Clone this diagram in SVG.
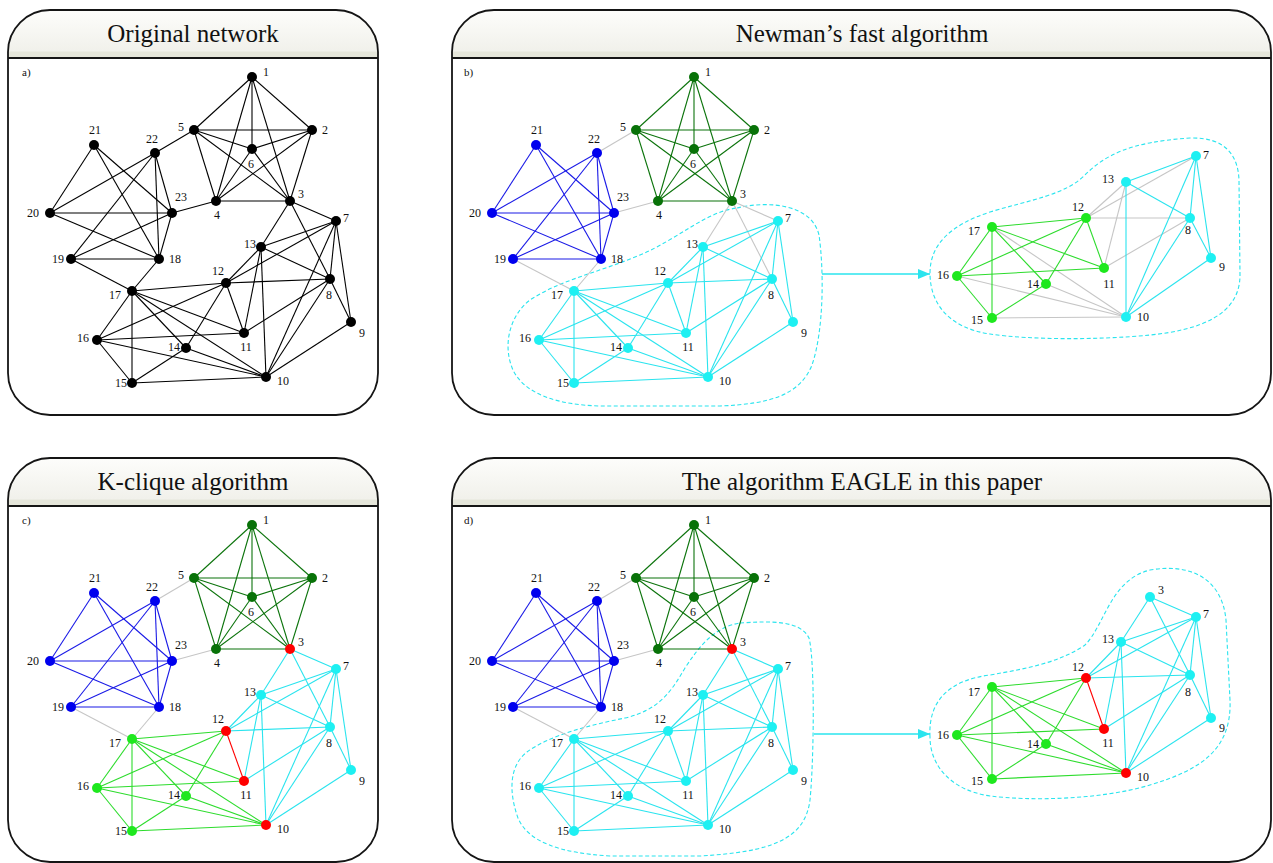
<svg xmlns="http://www.w3.org/2000/svg" width="1273" height="863" viewBox="0 0 1273 863">
<style>
.fr{fill:none;stroke:#151515;stroke-width:1.8}
.hd{fill:url(#hg)}
.sep{stroke:#151515;stroke-width:2}
.ti{font-family:"Liberation Serif","Times New Roman",serif;font-size:25px;fill:#111;text-anchor:middle}
.pl{font-family:"Liberation Serif","Times New Roman",serif;font-size:11px;fill:#111}
.t{font-family:"Liberation Serif","Times New Roman",serif;font-size:12px;fill:#111;text-anchor:middle}
.e{fill:none;stroke-width:1.1}
.k{stroke:#000}
.g{stroke:#0b730b}
.b{stroke:#1a1ae6}
.c{stroke:#2ae4ee}
.l{stroke:#2ddc2d}
.r{stroke:#f00}
.x{stroke:#c6c6c6}
.nk{fill:#000}.ng{fill:#087208}.nb{fill:#0000ee}.nc{fill:#1ef0f2}.nl{fill:#1ee81e}.nr{fill:#f00}
.ol{fill:none;stroke:#2ae4ee;stroke-width:1.1;stroke-dasharray:4 2.5}
.ar{fill:none;stroke:#2ae4ee;stroke-width:1.3}
</style>
<defs>
<linearGradient id="hg" x1="0" y1="0" x2="0" y2="1">
<stop offset="0" stop-color="#fdfdfb"/><stop offset="0.85" stop-color="#f1f1eb"/><stop offset="0.88" stop-color="#e5e6da"/><stop offset="1" stop-color="#e5e6da"/>
</linearGradient>
<marker id="ah" markerWidth="12" markerHeight="10" refX="12" refY="5" orient="auto" markerUnits="userSpaceOnUse"><path d="M0,0 L12,5 L0,10 Z" fill="#2ae4ee"/></marker>
<g id="eK6" fill="none" stroke-width="1.1">
<path d="M252 77L312 130"/><path d="M252 77L290 201"/><path d="M252 77L216 201"/><path d="M252 77L194 130"/><path d="M252 77L252 149"/>
<path d="M312 130L290 201"/><path d="M312 130L216 201"/><path d="M312 130L194 130"/><path d="M312 130L252 149"/>
<path d="M290 201L216 201"/><path d="M290 201L194 130"/><path d="M290 201L252 149"/>
<path d="M216 201L194 130"/><path d="M216 201L252 149"/><path d="M194 130L252 149"/>
</g>
<g id="eBL" fill="none" stroke-width="1.1">
<path d="M94 145L50 213"/><path d="M94 145L172 213"/><path d="M94 145L159 259"/>
<path d="M155 153L50 213"/><path d="M155 153L71 259"/><path d="M155 153L172 213"/><path d="M155 153L159 259"/>
<path d="M50 213L172 213"/><path d="M50 213L159 259"/><path d="M71 259L172 213"/><path d="M71 259L159 259"/><path d="M172 213L159 259"/>
</g>
<g id="eBR" fill="none" stroke-width="1.1">
<path d="M155 153L194 130"/><path d="M172 213L216 201"/><path d="M71 259L132 291"/><path d="M159 259L132 291"/>
</g>
<g id="eT3" fill="none" stroke-width="1.1">
<path d="M290 201L261 247"/><path d="M290 201L336 221"/><path d="M290 201L330 279"/>
</g>
<g id="eCC" fill="none" stroke-width="1.1">
<path d="M336 221L261 247"/><path d="M336 221L226 283"/><path d="M336 221L330 279"/><path d="M336 221L351 322"/><path d="M336 221L266 377"/>
<path d="M261 247L226 283"/><path d="M261 247L330 279"/><path d="M261 247L244 333"/><path d="M261 247L266 377"/>
<path d="M226 283L330 279"/><path d="M330 279L351 322"/><path d="M330 279L266 377"/><path d="M330 279L244 333"/><path d="M351 322L266 377"/>
</g>
<g id="eLL" fill="none" stroke-width="1.1">
<path d="M226 283L132 291"/><path d="M226 283L186 348"/><path d="M226 283L97 340"/>
<path d="M132 291L97 340"/><path d="M132 291L132 383"/><path d="M132 291L186 348"/><path d="M132 291L244 333"/><path d="M132 291L266 377"/>
<path d="M97 340L244 333"/><path d="M97 340L132 383"/><path d="M97 340L266 377"/>
<path d="M186 348L132 383"/><path d="M186 348L266 377"/><path d="M132 383L266 377"/>
</g>
<g id="eR1" fill="none" stroke-width="1.1"><path d="M226 283L244 333"/></g>
</defs>
<rect x="0" y="0" width="1273" height="863" fill="#fff"/>

<g id="frames">
<path class="hd" d="M8,58 V52 A42,42 0 0 1 50,10 H336 A42,42 0 0 1 378,52 V58 Z"/>
<path class="fr" d="M8,52 A42,42 0 0 1 50,10 H336 A42,42 0 0 1 378,52 V373 A42,42 0 0 1 336,415 H50 A42,42 0 0 1 8,373 Z"/>
<path class="sep" d="M8,58 H378"/>
<path class="hd" d="M452,58 V52 A42,42 0 0 1 494,10 H1229 A42,42 0 0 1 1271,52 V58 Z"/>
<path class="fr" d="M452,52 A42,42 0 0 1 494,10 H1229 A42,42 0 0 1 1271,52 V373 A42,42 0 0 1 1229,415 H494 A42,42 0 0 1 452,373 Z"/>
<path class="sep" d="M452,58 H1271"/>
<path class="hd" d="M8,506 V500 A42,42 0 0 1 50,458 H336 A42,42 0 0 1 378,500 V506 Z"/>
<path class="fr" d="M8,500 A42,42 0 0 1 50,458 H336 A42,42 0 0 1 378,500 V820 A42,42 0 0 1 336,862 H50 A42,42 0 0 1 8,820 Z"/>
<path class="sep" d="M8,506 H378"/>
<path class="hd" d="M452,506 V500 A42,42 0 0 1 494,458 H1229 A42,42 0 0 1 1271,500 V506 Z"/>
<path class="fr" d="M452,500 A42,42 0 0 1 494,458 H1229 A42,42 0 0 1 1271,500 V820 A42,42 0 0 1 1229,862 H494 A42,42 0 0 1 452,820 Z"/>
<path class="sep" d="M452,506 H1271"/>
<text class="ti" x="193" y="42">Original network</text>
<text class="ti" x="862" y="42">Newman’s fast algorithm</text>
<text class="ti" x="193" y="490">K-clique algorithm</text>
<text class="ti" x="862" y="490">The algorithm EAGLE in this paper</text>
<text class="pl" x="22" y="76">a)</text>
<text class="pl" x="464" y="76">b)</text>
<text class="pl" x="22" y="524">c)</text>
<text class="pl" x="464" y="524">d)</text>
</g>

<g id="outlines">
<path class="ol" d="M737,208 C770,200 812,205 819,235 C824,270 824,330 812,365 C800,395 770,404 720,406 L600,406 C560,405 525,395 513,370 C502,345 510,315 530,300 C560,280 600,272 640,255 C680,238 705,212 737,208 Z"/>
<path class="ol" d="M930,273 C930,245 950,225 990,212 C1030,200 1065,195 1085,175 C1105,155 1130,142 1190,138 C1225,137 1238,155 1239,180 L1240,275 C1240,315 1200,330 1150,335 C1100,340 1030,340 990,334 C950,328 930,305 930,273 Z"/>
<path class="ol" d="M740,623 C770,621 800,620 809,638 C815,660 814,760 810,800 C805,840 770,852 700,856 L610,856 C560,853 528,842 518,818 C508,790 510,765 527,752 C550,735 590,725 625,718 C660,710 672,690 685,668 C700,645 715,627 740,623 Z"/>
<path class="ol" d="M930,737 C928,700 950,680 990,675 C1030,668 1060,662 1085,645 C1105,625 1110,580 1150,570 C1190,563 1222,578 1226,620 L1230,700 C1232,750 1200,770 1150,785 C1100,800 1030,801 990,796 C950,790 930,765 930,737 Z"/>
</g>

<g id="connectors">
<g id="edges-a">
<use href="#eK6" class="k"/><use href="#eBL" class="k"/><use href="#eBR" class="k"/><use href="#eT3" class="k"/><use href="#eCC" class="k"/><use href="#eLL" class="k"/><use href="#eR1" class="k"/>
</g>
<g id="edges-b" transform="translate(442,0)">
<use href="#eBR" class="x"/><use href="#eT3" class="x"/><use href="#eK6" class="g"/><use href="#eBL" class="b"/><use href="#eCC" class="c"/><use href="#eLL" class="c"/><use href="#eR1" class="c"/>
</g>
<g id="edges-c" transform="translate(0,448)">
<use href="#eBR" class="x"/><use href="#eK6" class="g"/><use href="#eBL" class="b"/><use href="#eT3" class="c"/><use href="#eCC" class="c"/><use href="#eLL" class="l"/><use href="#eR1" class="r"/>
</g>
<g id="edges-d" transform="translate(442,448)">
<use href="#eBR" class="x"/><use href="#eK6" class="g"/><use href="#eBL" class="b"/><use href="#eT3" class="c"/><use href="#eCC" class="c"/><use href="#eLL" class="c"/><use href="#eR1" class="c"/>
</g>
<g id="edges-br" class="e">
<path class="x" d="M1196 156L1086 218"/><path class="x" d="M1126 182L1086 218"/><path class="x" d="M1126 182L1104 268"/><path class="x" d="M1086 218L1190 218"/><path class="x" d="M1190 218L1104 268"/><path class="x" d="M992 227L1126 317"/><path class="x" d="M957 276L1126 317"/><path class="x" d="M1046 284L1126 317"/><path class="x" d="M992 318L1126 317"/>
<path class="l" d="M1086 218L992 227"/><path class="l" d="M1086 218L1104 268"/><path class="l" d="M1086 218L1046 284"/><path class="l" d="M1086 218L957 276"/><path class="l" d="M992 227L957 276"/><path class="l" d="M992 227L992 318"/><path class="l" d="M992 227L1046 284"/><path class="l" d="M992 227L1104 268"/><path class="l" d="M957 276L1104 268"/><path class="l" d="M957 276L992 318"/><path class="l" d="M1046 284L992 318"/>
<path class="c" d="M1196 156L1126 182"/><path class="c" d="M1196 156L1190 218"/><path class="c" d="M1196 156L1211 258"/><path class="c" d="M1196 156L1126 317"/><path class="c" d="M1126 182L1190 218"/><path class="c" d="M1126 182L1126 317"/><path class="c" d="M1190 218L1211 258"/><path class="c" d="M1190 218L1126 317"/><path class="c" d="M1211 258L1126 317"/>
</g>
<g id="edges-dr" class="e">
<path class="l" d="M1086 678L992 687"/><path class="l" d="M1086 678L1046 744"/><path class="l" d="M1086 678L957 735"/><path class="l" d="M992 687L957 735"/><path class="l" d="M992 687L992 779"/><path class="l" d="M992 687L1046 744"/><path class="l" d="M992 687L1104 729"/><path class="l" d="M992 687L1126 773"/><path class="l" d="M957 735L1104 729"/><path class="l" d="M957 735L992 779"/><path class="l" d="M957 735L1126 773"/><path class="l" d="M1046 744L992 779"/><path class="l" d="M1046 744L1126 773"/><path class="l" d="M992 779L1126 773"/>
<path class="c" d="M1196 617L1121 642"/><path class="c" d="M1196 617L1086 678"/><path class="c" d="M1196 617L1190 675"/><path class="c" d="M1196 617L1211 718"/><path class="c" d="M1196 617L1126 773"/><path class="c" d="M1121 642L1086 678"/><path class="c" d="M1121 642L1190 675"/><path class="c" d="M1121 642L1104 729"/><path class="c" d="M1121 642L1126 773"/><path class="c" d="M1086 678L1190 675"/><path class="c" d="M1190 675L1211 718"/><path class="c" d="M1190 675L1126 773"/><path class="c" d="M1190 675L1104 729"/><path class="c" d="M1211 718L1126 773"/><path class="c" d="M1150 597L1121 642"/><path class="c" d="M1150 597L1196 617"/><path class="c" d="M1150 597L1190 675"/>
<path class="r" d="M1086 678L1104 729"/>
</g>
<path id="arrow-b" class="ar" d="M822,274 H930" marker-end="url(#ah)"/>
<path id="arrow-d" class="ar" d="M814,734 H930" marker-end="url(#ah)"/>
</g>

<g id="nodes-a">
<g id="a1"><circle class="nk" cx="252" cy="77" r="5"/><text class="t" x="266" y="76">1</text></g>
<g id="a2"><circle class="nk" cx="312" cy="130" r="5"/><text class="t" x="325" y="134">2</text></g>
<g id="a3"><circle class="nk" cx="290" cy="201" r="5"/><text class="t" x="301" y="198">3</text></g>
<g id="a4"><circle class="nk" cx="216" cy="201" r="5"/><text class="t" x="217" y="219">4</text></g>
<g id="a5"><circle class="nk" cx="194" cy="130" r="5"/><text class="t" x="181" y="131">5</text></g>
<g id="a6"><circle class="nk" cx="252" cy="149" r="5"/><text class="t" x="251" y="168">6</text></g>
<g id="a7"><circle class="nk" cx="336" cy="221" r="5"/><text class="t" x="346" y="222">7</text></g>
<g id="a8"><circle class="nk" cx="330" cy="279" r="5"/><text class="t" x="329" y="299">8</text></g>
<g id="a9"><circle class="nk" cx="351" cy="322" r="5"/><text class="t" x="362" y="337">9</text></g>
<g id="a10"><circle class="nk" cx="266" cy="377" r="5"/><text class="t" x="283" y="385">10</text></g>
<g id="a11"><circle class="nk" cx="244" cy="333" r="5"/><text class="t" x="246" y="351">11</text></g>
<g id="a12"><circle class="nk" cx="226" cy="283" r="5"/><text class="t" x="218" y="275">12</text></g>
<g id="a13"><circle class="nk" cx="261" cy="247" r="5"/><text class="t" x="250" y="248">13</text></g>
<g id="a14"><circle class="nk" cx="186" cy="348" r="5"/><text class="t" x="174" y="351">14</text></g>
<g id="a15"><circle class="nk" cx="132" cy="383" r="5"/><text class="t" x="121" y="387">15</text></g>
<g id="a16"><circle class="nk" cx="97" cy="340" r="5"/><text class="t" x="83" y="342">16</text></g>
<g id="a17"><circle class="nk" cx="132" cy="291" r="5"/><text class="t" x="115" y="299">17</text></g>
<g id="a18"><circle class="nk" cx="159" cy="259" r="5"/><text class="t" x="175" y="263">18</text></g>
<g id="a19"><circle class="nk" cx="71" cy="259" r="5"/><text class="t" x="58" y="263">19</text></g>
<g id="a20"><circle class="nk" cx="50" cy="213" r="5"/><text class="t" x="33" y="217">20</text></g>
<g id="a21"><circle class="nk" cx="94" cy="145" r="5"/><text class="t" x="95" y="134">21</text></g>
<g id="a22"><circle class="nk" cx="155" cy="153" r="5"/><text class="t" x="152" y="143">22</text></g>
<g id="a23"><circle class="nk" cx="172" cy="213" r="5"/><text class="t" x="181" y="201">23</text></g>
</g>

<g id="nodes-b" transform="translate(442,0)">
<g id="b1"><circle class="ng" cx="252" cy="77" r="5"/><text class="t" x="266" y="76">1</text></g>
<g id="b2"><circle class="ng" cx="312" cy="130" r="5"/><text class="t" x="325" y="134">2</text></g>
<g id="b3"><circle class="ng" cx="290" cy="201" r="5"/><text class="t" x="301" y="198">3</text></g>
<g id="b4"><circle class="ng" cx="216" cy="201" r="5"/><text class="t" x="217" y="219">4</text></g>
<g id="b5"><circle class="ng" cx="194" cy="130" r="5"/><text class="t" x="181" y="131">5</text></g>
<g id="b6"><circle class="ng" cx="252" cy="149" r="5"/><text class="t" x="251" y="168">6</text></g>
<g id="b7"><circle class="nc" cx="336" cy="221" r="5"/><text class="t" x="346" y="222">7</text></g>
<g id="b8"><circle class="nc" cx="330" cy="279" r="5"/><text class="t" x="329" y="299">8</text></g>
<g id="b9"><circle class="nc" cx="351" cy="322" r="5"/><text class="t" x="362" y="337">9</text></g>
<g id="b10"><circle class="nc" cx="266" cy="377" r="5"/><text class="t" x="283" y="385">10</text></g>
<g id="b11"><circle class="nc" cx="244" cy="333" r="5"/><text class="t" x="246" y="351">11</text></g>
<g id="b12"><circle class="nc" cx="226" cy="283" r="5"/><text class="t" x="218" y="275">12</text></g>
<g id="b13"><circle class="nc" cx="261" cy="247" r="5"/><text class="t" x="250" y="248">13</text></g>
<g id="b14"><circle class="nc" cx="186" cy="348" r="5"/><text class="t" x="174" y="351">14</text></g>
<g id="b15"><circle class="nc" cx="132" cy="383" r="5"/><text class="t" x="121" y="387">15</text></g>
<g id="b16"><circle class="nc" cx="97" cy="340" r="5"/><text class="t" x="83" y="342">16</text></g>
<g id="b17"><circle class="nc" cx="132" cy="291" r="5"/><text class="t" x="115" y="299">17</text></g>
<g id="b18"><circle class="nb" cx="159" cy="259" r="5"/><text class="t" x="175" y="263">18</text></g>
<g id="b19"><circle class="nb" cx="71" cy="259" r="5"/><text class="t" x="58" y="263">19</text></g>
<g id="b20"><circle class="nb" cx="50" cy="213" r="5"/><text class="t" x="33" y="217">20</text></g>
<g id="b21"><circle class="nb" cx="94" cy="145" r="5"/><text class="t" x="95" y="134">21</text></g>
<g id="b22"><circle class="nb" cx="155" cy="153" r="5"/><text class="t" x="152" y="143">22</text></g>
<g id="b23"><circle class="nb" cx="172" cy="213" r="5"/><text class="t" x="181" y="201">23</text></g>
</g>

<g id="nodes-c" transform="translate(0,448)">
<g id="c1"><circle class="ng" cx="252" cy="77" r="5"/><text class="t" x="266" y="76">1</text></g>
<g id="c2"><circle class="ng" cx="312" cy="130" r="5"/><text class="t" x="325" y="134">2</text></g>
<g id="c3"><circle class="nr" cx="290" cy="201" r="5"/><text class="t" x="301" y="198">3</text></g>
<g id="c4"><circle class="ng" cx="216" cy="201" r="5"/><text class="t" x="217" y="219">4</text></g>
<g id="c5"><circle class="ng" cx="194" cy="130" r="5"/><text class="t" x="181" y="131">5</text></g>
<g id="c6"><circle class="ng" cx="252" cy="149" r="5"/><text class="t" x="251" y="168">6</text></g>
<g id="c7"><circle class="nc" cx="336" cy="221" r="5"/><text class="t" x="346" y="222">7</text></g>
<g id="c8"><circle class="nc" cx="330" cy="279" r="5"/><text class="t" x="329" y="299">8</text></g>
<g id="c9"><circle class="nc" cx="351" cy="322" r="5"/><text class="t" x="362" y="337">9</text></g>
<g id="c10"><circle class="nr" cx="266" cy="377" r="5"/><text class="t" x="283" y="385">10</text></g>
<g id="c11"><circle class="nr" cx="244" cy="333" r="5"/><text class="t" x="246" y="351">11</text></g>
<g id="c12"><circle class="nr" cx="226" cy="283" r="5"/><text class="t" x="218" y="275">12</text></g>
<g id="c13"><circle class="nc" cx="261" cy="247" r="5"/><text class="t" x="250" y="248">13</text></g>
<g id="c14"><circle class="nl" cx="186" cy="348" r="5"/><text class="t" x="174" y="351">14</text></g>
<g id="c15"><circle class="nl" cx="132" cy="383" r="5"/><text class="t" x="121" y="387">15</text></g>
<g id="c16"><circle class="nl" cx="97" cy="340" r="5"/><text class="t" x="83" y="342">16</text></g>
<g id="c17"><circle class="nl" cx="132" cy="291" r="5"/><text class="t" x="115" y="299">17</text></g>
<g id="c18"><circle class="nb" cx="159" cy="259" r="5"/><text class="t" x="175" y="263">18</text></g>
<g id="c19"><circle class="nb" cx="71" cy="259" r="5"/><text class="t" x="58" y="263">19</text></g>
<g id="c20"><circle class="nb" cx="50" cy="213" r="5"/><text class="t" x="33" y="217">20</text></g>
<g id="c21"><circle class="nb" cx="94" cy="145" r="5"/><text class="t" x="95" y="134">21</text></g>
<g id="c22"><circle class="nb" cx="155" cy="153" r="5"/><text class="t" x="152" y="143">22</text></g>
<g id="c23"><circle class="nb" cx="172" cy="213" r="5"/><text class="t" x="181" y="201">23</text></g>
</g>

<g id="nodes-d" transform="translate(442,448)">
<g id="d1"><circle class="ng" cx="252" cy="77" r="5"/><text class="t" x="266" y="76">1</text></g>
<g id="d2"><circle class="ng" cx="312" cy="130" r="5"/><text class="t" x="325" y="134">2</text></g>
<g id="d3"><circle class="nr" cx="290" cy="201" r="5"/><text class="t" x="301" y="198">3</text></g>
<g id="d4"><circle class="ng" cx="216" cy="201" r="5"/><text class="t" x="217" y="219">4</text></g>
<g id="d5"><circle class="ng" cx="194" cy="130" r="5"/><text class="t" x="181" y="131">5</text></g>
<g id="d6"><circle class="ng" cx="252" cy="149" r="5"/><text class="t" x="251" y="168">6</text></g>
<g id="d7"><circle class="nc" cx="336" cy="221" r="5"/><text class="t" x="346" y="222">7</text></g>
<g id="d8"><circle class="nc" cx="330" cy="279" r="5"/><text class="t" x="329" y="299">8</text></g>
<g id="d9"><circle class="nc" cx="351" cy="322" r="5"/><text class="t" x="362" y="337">9</text></g>
<g id="d10"><circle class="nc" cx="266" cy="377" r="5"/><text class="t" x="283" y="385">10</text></g>
<g id="d11"><circle class="nc" cx="244" cy="333" r="5"/><text class="t" x="246" y="351">11</text></g>
<g id="d12"><circle class="nc" cx="226" cy="283" r="5"/><text class="t" x="218" y="275">12</text></g>
<g id="d13"><circle class="nc" cx="261" cy="247" r="5"/><text class="t" x="250" y="248">13</text></g>
<g id="d14"><circle class="nc" cx="186" cy="348" r="5"/><text class="t" x="174" y="351">14</text></g>
<g id="d15"><circle class="nc" cx="132" cy="383" r="5"/><text class="t" x="121" y="387">15</text></g>
<g id="d16"><circle class="nc" cx="97" cy="340" r="5"/><text class="t" x="83" y="342">16</text></g>
<g id="d17"><circle class="nc" cx="132" cy="291" r="5"/><text class="t" x="115" y="299">17</text></g>
<g id="d18"><circle class="nb" cx="159" cy="259" r="5"/><text class="t" x="175" y="263">18</text></g>
<g id="d19"><circle class="nb" cx="71" cy="259" r="5"/><text class="t" x="58" y="263">19</text></g>
<g id="d20"><circle class="nb" cx="50" cy="213" r="5"/><text class="t" x="33" y="217">20</text></g>
<g id="d21"><circle class="nb" cx="94" cy="145" r="5"/><text class="t" x="95" y="134">21</text></g>
<g id="d22"><circle class="nb" cx="155" cy="153" r="5"/><text class="t" x="152" y="143">22</text></g>
<g id="d23"><circle class="nb" cx="172" cy="213" r="5"/><text class="t" x="181" y="201">23</text></g>
</g>

<g id="nodes-br">
<g id="br7"><circle class="nc" cx="1196" cy="156" r="5"/><text class="t" x="1206" y="159">7</text></g>
<g id="br13"><circle class="nc" cx="1126" cy="182" r="5"/><text class="t" x="1108" y="183">13</text></g>
<g id="br12"><circle class="nl" cx="1086" cy="218" r="5"/><text class="t" x="1078" y="211">12</text></g>
<g id="br8"><circle class="nc" cx="1190" cy="218" r="5"/><text class="t" x="1188" y="234">8</text></g>
<g id="br17"><circle class="nl" cx="992" cy="227" r="5"/><text class="t" x="974" y="235">17</text></g>
<g id="br11"><circle class="nl" cx="1104" cy="268" r="5"/><text class="t" x="1109" y="288">11</text></g>
<g id="br9"><circle class="nc" cx="1211" cy="258" r="5"/><text class="t" x="1222" y="271">9</text></g>
<g id="br16"><circle class="nl" cx="957" cy="276" r="5"/><text class="t" x="943" y="279">16</text></g>
<g id="br14"><circle class="nl" cx="1046" cy="284" r="5"/><text class="t" x="1033" y="288">14</text></g>
<g id="br15"><circle class="nl" cx="992" cy="318" r="5"/><text class="t" x="977" y="324">15</text></g>
<g id="br10"><circle class="nc" cx="1126" cy="317" r="5"/><text class="t" x="1143" y="321">10</text></g>
</g>

<g id="nodes-dr">
<g id="dr3"><circle class="nc" cx="1150" cy="597" r="5"/><text class="t" x="1161" y="594">3</text></g>
<g id="dr7"><circle class="nc" cx="1196" cy="617" r="5"/><text class="t" x="1206" y="618">7</text></g>
<g id="dr13"><circle class="nc" cx="1121" cy="642" r="5"/><text class="t" x="1108" y="643">13</text></g>
<g id="dr12"><circle class="nr" cx="1086" cy="678" r="5"/><text class="t" x="1078" y="671">12</text></g>
<g id="dr8"><circle class="nc" cx="1190" cy="675" r="5"/><text class="t" x="1188" y="696">8</text></g>
<g id="dr17"><circle class="nl" cx="992" cy="687" r="5"/><text class="t" x="974" y="696">17</text></g>
<g id="dr11"><circle class="nr" cx="1104" cy="729" r="5"/><text class="t" x="1108" y="747">11</text></g>
<g id="dr9"><circle class="nc" cx="1211" cy="718" r="5"/><text class="t" x="1222" y="732">9</text></g>
<g id="dr16"><circle class="nl" cx="957" cy="735" r="5"/><text class="t" x="943" y="739">16</text></g>
<g id="dr14"><circle class="nl" cx="1046" cy="744" r="5"/><text class="t" x="1033" y="748">14</text></g>
<g id="dr15"><circle class="nl" cx="992" cy="779" r="5"/><text class="t" x="977" y="785">15</text></g>
<g id="dr10"><circle class="nr" cx="1126" cy="773" r="5"/><text class="t" x="1143" y="781">10</text></g>
</g>
</svg>
